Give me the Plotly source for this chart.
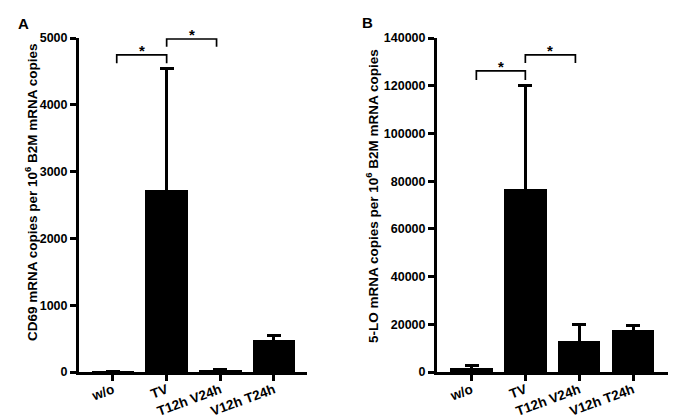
import plotly.graph_objects as go

# ---- data ----
categories = ["w/o", "TV", "T12h V24h", "V12h T24h"]
cd69_mean = [8, 2720, 20, 480]
cd69_err = [5, 1830, 15, 70]
lo5_mean = [1700, 76500, 13000, 17500]
lo5_err = [1000, 43500, 7000, 1800]

cd69_ticks = [0, 1000, 2000, 3000, 4000, 5000]
lo5_ticks = [0, 20000, 40000, 60000, 80000, 100000, 120000, 140000]

# significance brackets: (x_start, x_end, y_top, y_drop)
cd69_brackets = [(0.07, 1.0, 4746, 4621), (1.0, 1.93, 4985, 4870)]
lo5_brackets = [(0.09, 1.0, 126200, 122400), (1.0, 1.93, 132900, 129500)]

W, H = 674, 417
FONT = "Liberation Sans"

fig = go.Figure()

def add_panel(fig, xa, ya, means, errs, brackets):
    fig.add_trace(go.Bar(
        x=list(range(len(categories))), y=means,
        xaxis=xa, yaxis=ya, width=0.79,
        marker=dict(color="black", line=dict(width=0)),
        error_y=dict(type="data", symmetric=True, array=errs,
                     color="black", thickness=3, width=7),
        showlegend=False, hoverinfo="skip"))
    for (x0, x1, yt, yd) in brackets:
        fig.add_trace(go.Scatter(
            x=[x0, x0, x1, x1], y=[yd, yt, yt, yd], mode="lines",
            xaxis=xa, yaxis=ya, line=dict(color="black", width=1.7),
            showlegend=False, hoverinfo="skip"))
        fig.add_annotation(x=(x0 + x1) / 2, y=yt, xref=xa, yref=ya.replace("axis", ""),
                           text="*", showarrow=False, yanchor="bottom",
                           yshift=-6, font=dict(family=FONT, size=15, color="black", weight="bold"))

add_panel(fig, "x", "y", cd69_mean, cd69_err, cd69_brackets)
add_panel(fig, "x2", "y2", lo5_mean, lo5_err, lo5_brackets)

ydom = [1 - 372 / H, 1 - 38 / H]
axis_common = dict(showline=True, linecolor="black", linewidth=3, automargin=False,
                   ticks="outside", ticklen=6, tickwidth=3, tickcolor="black",
                   showgrid=False, zeroline=False)
yfont = dict(family=FONT, size=12.5, color="black", weight="bold")
xfont = dict(family=FONT, size=13.5, color="black", weight="bold")

fig.update_layout(
    template="none",
    width=W, height=H, autosize=False,
    margin=dict(l=0, r=0, t=0, b=0, pad=0),
    paper_bgcolor="white", plot_bgcolor="white",
    bargap=0,
    xaxis=dict(domain=[79 / W, 307 / W], range=[-0.633, 3.615],
               tickvals=list(range(len(categories))), ticktext=categories,
               tickangle=-20, anchor="y", tickfont=xfont, ticklabelstandoff=-4,
               **axis_common),
    yaxis=dict(domain=ydom, range=[0, 5000], tickvals=cd69_ticks, tickformat="d",
               anchor="x", tickfont=yfont, **axis_common),
    xaxis2=dict(domain=[437 / W, 668 / W], range=[-0.641, 3.65],
                tickvals=list(range(len(categories))), ticktext=categories,
                tickangle=-20, anchor="y2", tickfont=xfont, ticklabelstandoff=-4,
                **axis_common),
    yaxis2=dict(domain=ydom, range=[0, 140000], tickvals=lo5_ticks, tickformat="d",
                anchor="x2", tickfont=yfont, **axis_common),
)

title_font = dict(family=FONT, size=13.5, color="black", weight="bold")
fig.add_annotation(xref="paper", yref="paper", x=20 / W, y=1 - 192 / H,
                   text="CD69 mRNA copies per 10<sup>6</sup> B2M mRNA copies",
                   textangle=-90, showarrow=False, font=title_font)
fig.add_annotation(xref="paper", yref="paper", x=372 / W, y=1 - 196 / H,
                   text="5-LO mRNA copies per 10<sup>6</sup> B2M mRNA copies",
                   textangle=-90, showarrow=False, font=title_font)

label_font = dict(family=FONT, size=15, color="black", weight="bold")
fig.add_annotation(xref="paper", yref="paper", x=16 / W, y=1 - 13 / H,
                   text="A", showarrow=False, font=label_font)
fig.add_annotation(xref="paper", yref="paper", x=367 / W, y=1 - 12 / H,
                   text="B", showarrow=False, font=label_font)

fig.write_html("out.html", config={"displayModeBar": False},
               post_script="document.body.style.margin='0';document.body.style.overflow='hidden';")
